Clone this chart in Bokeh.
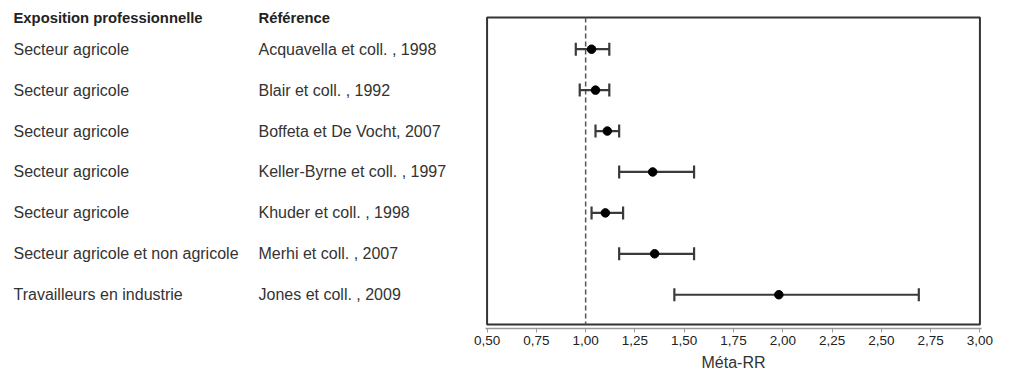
from bokeh.plotting import figure
from bokeh.layouts import row
from bokeh.models import Range1d, FixedTicker, CustomJSTickFormatter, ColumnDataSource
from bokeh.core.properties import value
from bokeh.embed import file_html
from bokeh.resources import INLINE

# Méta-analyses : exposition professionnelle et risque relatif (IC 95 %)
expositions = [
    "Secteur agricole",
    "Secteur agricole",
    "Secteur agricole",
    "Secteur agricole",
    "Secteur agricole",
    "Secteur agricole et non agricole",
    "Travailleurs en industrie",
]
references = [
    "Acquavella et coll. , 1998",
    "Blair et coll. , 1992",
    "Boffeta et De Vocht, 2007",
    "Keller-Byrne et coll. , 1997",
    "Khuder et coll. , 1998",
    "Merhi et coll. , 2007",
    "Jones et coll. , 2009",
]
meta_rr = [1.03, 1.05, 1.11, 1.34, 1.10, 1.35, 1.98]
ic_low = [0.95, 0.97, 1.05, 1.17, 1.03, 1.17, 1.45]
ic_high = [1.12, 1.12, 1.17, 1.55, 1.19, 1.55, 2.69]
headers = ["Exposition professionnelle", "Référence"]
x_ticks = [0.50, 0.75, 1.00, 1.25, 1.50, 1.75, 2.00, 2.25, 2.50, 2.75, 3.00]
ref_rr = 1.0

FONT = "Liberation Sans"
TEXT = "#333333"
H = 373
ROW_PX = 41.17          # vertical pitch between studies
FIRST_ROW_PX = 49       # centre of the first study, from the top of the page
FRAME_H = 330           # both panels share a frame from the top down to the x axis
BOTTOM = H - FRAME_H

rows = list(range(1, len(references) + 1))

# shared vertical scale: study i sits at y = i, growing downwards
y_top = 1 - FIRST_ROW_PX / ROW_PX
y_bottom = y_top + FRAME_H / ROW_PX

# ---------------- left panel: table of exposures / references ----------------
LEFT_W = 455
tab = figure(width=LEFT_W, height=H, output_backend="svg", toolbar_location=None,
             x_range=Range1d(0, LEFT_W), y_range=Range1d(y_bottom, y_top),
             min_border_left=0, min_border_right=0,
             min_border_top=0, min_border_bottom=BOTTOM,
             outline_line_color=None)
tab.axis.visible = False
tab.grid.visible = False

col_x = [13, 258]
head_y = y_top + 18 / ROW_PX
tab.text(x=col_x, y=[head_y, head_y], text=headers, text_font=value(FONT),
         text_font_size="14.8px", text_font_style="bold", text_color="#222222",
         text_baseline="middle", text_align="left")
tab.text(x=[col_x[0]] * len(rows), y=rows, text=expositions, text_font=value(FONT),
         text_font_size="16px", text_color=TEXT, text_baseline="middle", text_align="left")
tab.text(x=[col_x[1]] * len(rows), y=rows, text=references, text_font=value(FONT),
         text_font_size="16px", text_color=TEXT, text_baseline="middle", text_align="left")

# ---------------- right panel: forest plot ----------------
RIGHT_W = 1016 - LEFT_W
pad = 0.008

p = figure(width=RIGHT_W, height=H, output_backend="svg", toolbar_location=None,
           x_range=Range1d(x_ticks[0] - pad, x_ticks[-1] + pad),
           y_range=Range1d(y_bottom, y_top),
           min_border_left=30, min_border_right=35,
           min_border_top=0, min_border_bottom=BOTTOM,
           outline_line_color=None)
p.grid.visible = False
p.yaxis.visible = False

# plot box, a few pixels above the x axis
box_top = y_top + 17 / ROW_PX
box_bottom = y_top + (FRAME_H - 4) / ROW_PX
p.quad(left=[x_ticks[0]], right=[x_ticks[-1]], top=[box_top], bottom=[box_bottom],
       fill_color=None, line_color="#333333", line_width=2)

# reference line at RR = 1
p.segment(x0=[ref_rr], x1=[ref_rr], y0=[box_top], y1=[box_bottom],
          line_color="#555555", line_width=1.5, line_dash="5 3")

src = ColumnDataSource(dict(y=rows, rr=meta_rr, lo=ic_low, hi=ic_high))
p.segment(x0="lo", x1="hi", y0="y", y1="y", source=src,
          line_color="#3a3a3a", line_width=2.2)
p.scatter(x="lo", y="y", source=src, marker="dash", angle=1.5708, size=13,
          line_color="#3a3a3a", line_width=2.2)
p.scatter(x="hi", y="y", source=src, marker="dash", angle=1.5708, size=13,
          line_color="#3a3a3a", line_width=2.2)
p.scatter(x="rr", y="y", source=src, marker="circle", size=8.5,
          fill_color="black", line_color="black")

ax = p.xaxis[0]
ax.ticker = FixedTicker(ticks=x_ticks)
ax.formatter = CustomJSTickFormatter(code="return tick.toFixed(2).replace('.', ',');")
ax.axis_line_color = "#9a9a9a"
ax.axis_line_width = 1.5
ax.major_tick_line_color = "#9a9a9a"
ax.major_tick_in = 0
ax.major_tick_out = 4
ax.minor_tick_line_color = None
ax.major_label_standoff = 3
ax.major_label_text_font = FONT
ax.major_label_text_font_size = "13.5px"
ax.major_label_text_color = "#222222"
ax.axis_label = "Méta-RR"
ax.axis_label_text_font = FONT
ax.axis_label_text_font_size = "16px"
ax.axis_label_text_font_style = "normal"
ax.axis_label_text_color = TEXT
ax.axis_label_standoff = 6

layout = row(tab, p, spacing=0)
open("out.html", "w").write(file_html(layout, INLINE))
